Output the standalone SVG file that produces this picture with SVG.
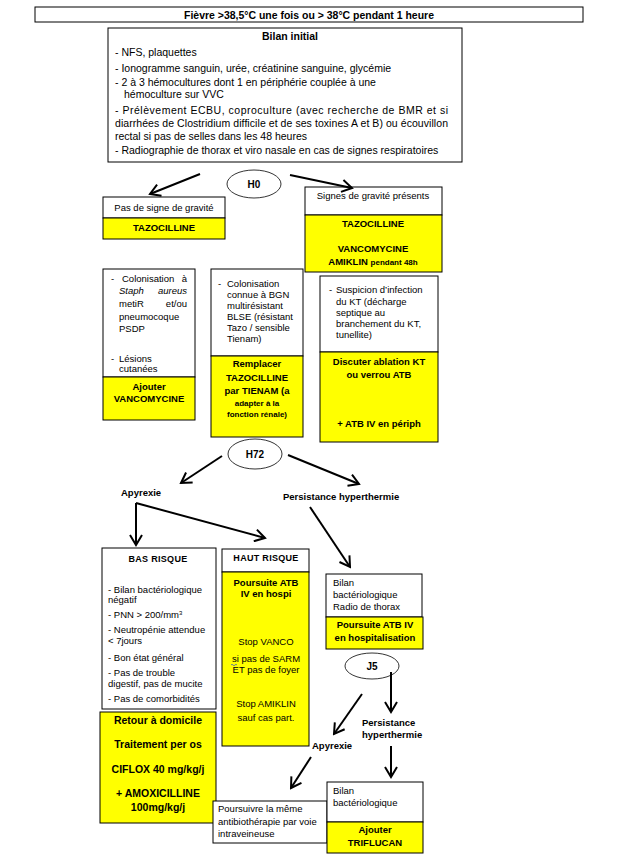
<svg xmlns="http://www.w3.org/2000/svg" width="640" height="862" viewBox="0 0 640 862">
<defs>
<marker id="ah" markerUnits="userSpaceOnUse" markerWidth="14" markerHeight="14" viewBox="0 0 14 14" refX="12" refY="7" orient="auto">
<path d="M2,1 L12,7 L2,13" fill="none" stroke="#000" stroke-width="2"/>
</marker>
<style>
.w{fill:#fff;stroke:#000;stroke-width:1}
.y{fill:#ffff00;stroke:#000;stroke-width:1}
.e{fill:#fff;stroke:#000;stroke-width:0.8}
text{font-family:"Liberation Sans",Arial,sans-serif;font-size:9.5px;fill:#000}
.bl{font-size:10.5px}
.b{font-weight:bold}
.c{text-anchor:middle}
.r{text-anchor:end}
.sm{font-size:8px}
.big{font-size:10.5px}
.i{font-style:italic}
.conn path{stroke:#000;stroke-width:2;fill:none;marker-end:url(#ah)}
</style>
</defs>
<rect width="640" height="862" fill="#fff"/>

<g id="titre">
<rect class="w" x="35" y="7" width="548" height="15"/>
<text class="b c" x="309" y="19" style="font-size:11px" textLength="250" lengthAdjust="spacingAndGlyphs">Fièvre  &gt;38,5°C une fois ou &gt; 38°C pendant 1 heure</text>
</g>

<g id="bilan-initial">
<rect class="w" x="108" y="28" width="354" height="134"/>
<text class="b c bl" x="290" y="40">Bilan initial</text>
<text class="bl" x="115" y="56">- NFS, plaquettes</text>
<text class="bl" x="115" y="72">- Ionogramme sanguin, urée, créatinine sanguine, glycémie</text>
<text class="bl" x="115" y="86">- 2 à 3 hémocultures dont 1 en périphérie couplée à une</text>
<text class="bl" x="124" y="98">hémoculture sur VVC</text>
<text class="bl" x="115" y="114" textLength="333" lengthAdjust="spacing">- Prélèvement ECBU, coproculture (avec recherche de BMR et si</text>
<text class="bl" x="115" y="127" textLength="333" lengthAdjust="spacing">diarrhées de Clostridium difficile et de ses toxines A et B) ou écouvillon</text>
<text class="bl" x="115" y="140">rectal si pas de selles dans les 48 heures</text>
<text class="bl" x="115" y="154">- Radiographie de thorax et viro nasale en cas de signes respiratoires</text>
</g>

<g id="h0">
<ellipse class="e" cx="254" cy="184" rx="27" ry="14"/>
<text class="b c" x="254" y="188" style="font-size:10px">H0</text>
</g>

<g id="pas-de-signe">
<rect class="w" x="103" y="197" width="122" height="21"/>
<rect class="y" x="103" y="218" width="122" height="21"/>
<text class="c" x="164" y="211">Pas de signe de gravité</text>
<text class="b c" x="164" y="231">TAZOCILLINE</text>
</g>

<g id="signes-gravite">
<rect class="w" x="305" y="187" width="137" height="28"/>
<rect class="y" x="305" y="215" width="137" height="57"/>
<text class="c" x="373" y="199">Signes de gravité présents</text>
<text class="b c" x="373" y="227">TAZOCILLINE</text>
<text class="b c" x="373" y="252">VANCOMYCINE</text>
<text class="b c" x="373" y="265">AMIKLIN <tspan class="sm">pendant 48h</tspan></text>
</g>

<g id="staph">
<rect class="w" x="103" y="269" width="92" height="108"/>
<rect class="y" x="103" y="377" width="92" height="43"/>
<text x="111" y="282">-</text>
<text x="122" y="282">Colonisation</text>
<text class="r" x="187" y="282">à</text>
<text class="i" x="119" y="294">Staph</text>
<text class="i r" x="187" y="294">aureus</text>
<text x="119" y="307">metiR</text>
<text class="r" x="187" y="307">et/ou</text>
<text x="119" y="320">pneumocoque</text>
<text x="119" y="332">PSDP</text>
<text x="111" y="362">-</text>
<text x="119" y="362">Lésions</text>
<text x="119" y="372">cutanées</text>
<text class="b c" x="149" y="390">Ajouter</text>
<text class="b c" x="149" y="402">VANCOMYCINE</text>
</g>

<g id="bgn">
<rect class="w" x="211" y="269" width="92" height="87"/>
<rect class="y" x="211" y="356" width="92" height="81"/>
<text x="218" y="287">-</text>
<text x="227" y="287">Colonisation</text>
<text x="227" y="298">connue à BGN</text>
<text x="227" y="309">multirésistant</text>
<text x="227" y="320">BLSE (résistant</text>
<text x="227" y="331">Tazo / sensible</text>
<text x="227" y="342">Tienam)</text>
<text class="b c" x="257" y="367">Remplacer</text>
<text class="b c" x="257" y="381">TAZOCILLINE</text>
<text class="b c" x="257" y="394">par TIENAM (a</text>
<text class="b c sm" x="257" y="406">adapter à la</text>
<text class="b c sm" x="257" y="417">fonction rénale)</text>
</g>

<g id="kt">
<rect class="w" x="320" y="276" width="118" height="76"/>
<rect class="y" x="320" y="352" width="118" height="90"/>
<text x="329" y="293">-</text>
<text x="336" y="293">Suspicion d’infection</text>
<text x="336" y="305">du KT (décharge</text>
<text x="336" y="316">septique au</text>
<text x="336" y="327">branchement du KT,</text>
<text x="336" y="338">tunellite)</text>
<text class="b c" x="379" y="365">Discuter ablation KT</text>
<text class="b c" x="379" y="378">ou verrou ATB</text>
<text class="b c" x="379" y="427">+ ATB IV en périph</text>
</g>

<g id="h72">
<ellipse class="e" cx="255" cy="454" rx="27" ry="15"/>
<text class="b c" x="255" y="458" style="font-size:10px">H72</text>
</g>

<g id="apyrexie-1">
<text class="b" x="121" y="496">Apyrexie</text>
</g>

<g id="persistance-1">
<text class="b" x="283" y="500">Persistance hyperthermie</text>
</g>

<g id="bas-risque">
<rect class="w" x="102" y="548" width="114" height="161"/>
<text class="b c" x="158" y="562" style="font-size:9px;letter-spacing:0.3px">BAS RISQUE</text>
<text x="108" y="593">- Bilan bactériologique</text>
<text x="108" y="603">négatif</text>
<text x="108" y="618">- PNN &gt; 200/mm<tspan dy="-3" style="font-size:6px">3</tspan></text>
<text x="108" y="633">- Neutropénie attendue</text>
<text x="108" y="644">&lt; 7jours</text>
<text x="108" y="661">- Bon état général</text>
<text x="108" y="676">- Pas de trouble</text>
<text x="108" y="687">digestif, pas de mucite</text>
<text x="108" y="702">- Pas de comorbidités</text>
</g>

<g id="retour-domicile">
<rect class="y" x="100" y="712" width="116" height="111"/>
<text class="b c big" x="158" y="724">Retour à domicile</text>
<text class="b c big" x="158" y="748">Traitement per os</text>
<text class="b c big" x="158" y="773">CIFLOX 40 mg/kg/j</text>
<text class="b c big" x="158" y="797">+ AMOXICILLINE</text>
<text class="b c big" x="158" y="811">100mg/kg/j</text>
</g>

<g id="haut-risque">
<rect class="w" x="222" y="549" width="87" height="23"/>
<rect class="y" x="222" y="572" width="87" height="174"/>
<text class="b c" x="266" y="561" style="font-size:9px;letter-spacing:0.3px">HAUT RISQUE</text>
<text class="b c" x="266" y="586">Poursuite ATB</text>
<text class="b c" x="266" y="597">IV en hospi</text>
<text class="c" x="266" y="645">Stop VANCO</text>
<text class="c" x="266" y="662">si pas de SARM</text>
<path d="M231,665 q1,-1.5 2,0 t2,0 t2,0" fill="none" stroke="#4060c0" stroke-width="0.8"/>
<text class="c" x="266" y="673">ET pas de foyer</text>
<text class="c" x="266" y="707">Stop AMIKLIN</text>
<text class="c" x="266" y="721">sauf cas part.</text>
</g>

<g id="bilan-radio">
<rect class="w" x="326" y="574" width="96" height="43"/>
<rect class="y" x="326" y="617" width="97" height="32"/>
<text x="333" y="586">Bilan</text>
<text x="333" y="598">bactériologique</text>
<text x="333" y="610">Radio de thorax</text>
<text class="b c" x="375" y="628">Poursuite ATB IV</text>
<text class="b c" x="375" y="641">en hospitalisation</text>
</g>

<g id="j5">
<ellipse class="e" cx="372" cy="666" rx="27" ry="13"/>
<text class="b c" x="372" y="670" style="font-size:10px">J5</text>
</g>

<g id="persistance-2">
<text class="b" x="362" y="726">Persistance</text>
<text class="b" x="362" y="738">hyperthermie</text>
</g>

<g id="apyrexie-2">
<text class="b" x="312" y="749">Apyrexie</text>
</g>

<g id="poursuivre">
<rect class="w" x="213" y="801" width="114" height="42"/>
<text x="218" y="812">Poursuivre la même</text>
<text x="218" y="825">antibiothérapie par voie</text>
<text x="218" y="837">intraveineuse</text>
</g>

<g id="triflucan">
<rect class="w" x="327" y="782" width="96" height="40"/>
<rect class="y" x="327" y="822" width="96" height="31"/>
<text x="333" y="794">Bilan</text>
<text x="333" y="806">bactériologique</text>
<text class="b c" x="375" y="833">Ajouter</text>
<text class="b c" x="375" y="846">TRIFLUCAN</text>
</g>

<g id="connectors" class="conn">
<path d="M200,174 L150,194"/>
<path d="M290,175 L352,188"/>
<path d="M222,456 L181,483"/>
<path d="M288,455 L359,484"/>
<path d="M136,503 L136,545"/>
<path d="M136,503 L265,538"/>
<path d="M310,507 L350,567"/>
<path d="M391,672 L391,712"/>
<path d="M362,694 L334,734"/>
<path d="M391,746 L391,777"/>
<path d="M311,757 L291,788"/>
</g>
</svg>
